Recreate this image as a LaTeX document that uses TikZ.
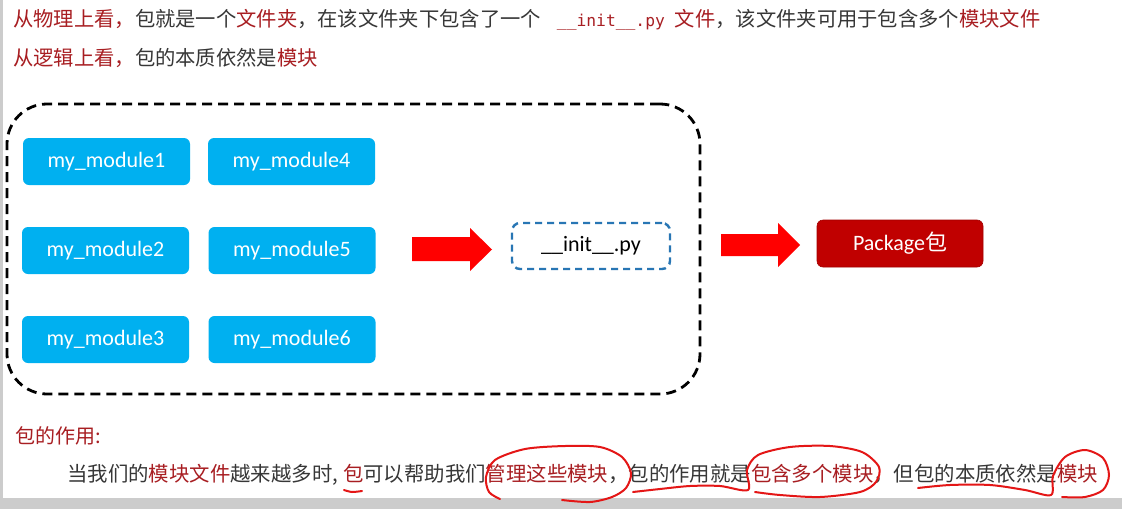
\documentclass[tikz,border=0pt]{standalone}
\usepackage{fontspec}
\newfontfamily\cjk{Noto Sans CJK SC}
\newfontfamily\carl{Carlito}
\newfontfamily\monof{DejaVu Sans Mono}
\definecolor{txtred}{RGB}{168,30,34}
\definecolor{txtgray}{RGB}{55,55,55}
\definecolor{modblue}{RGB}{0,176,240}
\definecolor{initblue}{RGB}{40,118,180}
\definecolor{pkgred}{RGB}{192,0,0}
\definecolor{penred}{RGB}{228,22,22}
\definecolor{arrred}{RGB}{255,0,0}
\definecolor{edgegray}{RGB}{204,204,204}
\newcommand\Rd[1]{\textcolor{txtred}{#1}}
\tikzset{
  txt/.style={inner sep=0pt, anchor=base west, text=txtgray},
  modbox/.style={fill=modblue, rounded corners=6pt, minimum width=167pt, minimum height=47pt, inner sep=0pt, text=white, font=\carl\fontsize{22}{26}\selectfont},
  initbox/.style={draw=initblue, line width=2.4pt, dash pattern=on 7pt off 5pt, rounded corners=8pt, minimum width=158pt, minimum height=46pt, inner sep=0pt, text=black, font=\carl\fontsize{22}{26}\selectfont},
  pkgbox/.style={fill=pkgred, draw=pkgred!85!black, line width=0.6pt, rounded corners=6pt, minimum width=166pt, minimum height=47pt, inner sep=0pt, text=white, font=\carl\fontsize{22}{26}\selectfont},
  groupbox/.style={draw=black, line width=2.8pt, dash pattern=on 10pt off 6pt, rounded corners=40pt, minimum width=693pt, minimum height=290pt, inner sep=0pt},
  blockarr/.style={fill=arrred, draw=none},
  pen/.style={draw=penred, line width=2pt, line cap=round, line join=round}
}
\begin{document}
\begin{tikzpicture}[x=1pt,y=-1pt]
\fill[white] (0,0) rectangle (1122,509);
\useasboundingbox (0,0) rectangle (1122,509);
\fill[edgegray] (0,0) rectangle (3,509);
\fill[edgegray] (0,498) rectangle (1122,509);

% top text
\node[txt] (l1) at (13,26) {\cjk\fontsize{20.3}{24}\selectfont\Rd{从物理上看，}包就是一个\Rd{文件夹}，在该文件夹下包含了一个\hspace{16pt}\Rd{\monof\fontsize{16.3}{20}\selectfont\_\_init\_\_.py}\hspace{10pt}\Rd{文件}，该文件夹可用于包含多个\Rd{模块文件}};
\node[txt] (l2) at (13,65) {\cjk\fontsize{20.3}{24}\selectfont\Rd{从逻辑上看，}包的本质依然是\Rd{模块}};

% group
\node[groupbox] (grp) at (353.5,249) {};
\node[modbox] (m1) at (106.5,161.5) {my\_module1};
\node[modbox] (m4) at (291.5,161.5) {my\_module4};
\node[modbox] (m2) at (105.5,250.5) {my\_module2};
\node[modbox] (m5) at (292,250.5) {my\_module5};
\node[modbox] (m3) at (105.5,339.5) {my\_module3};
\node[modbox] (m6) at (292,339.5) {my\_module6};
\node[initbox] (init) at (591,246) {\_\_init\_\_.py};
\node[pkgbox] (pkg) at (900,243.5) {Package{\cjk 包}};

% block arrows
\fill[blockarr] (412,237) -- (470,237) -- (470,228) -- (492,249.5) -- (470,271) -- (470,261) -- (412,261) -- cycle;
\fill[blockarr] (721,234) -- (778,234) -- (778,223) -- (800,245) -- (778,267) -- (778,256) -- (721,256) -- cycle;

% bottom text
\node[txt, text=txtred] (h) at (15,443) {\cjk\fontsize{20}{24}\selectfont 包的作用:};
\node[txt] (l4) at (67,481.5) {\cjk\fontsize{20.4}{24}\selectfont 当我们的\Rd{模块文件}越来越多时,\hspace{5pt}\Rd{包}可以帮助我们\Rd{管理这些模块}，包的作用就是\Rd{包含多个模块}，但包的本质依然是\Rd{模块}};

% hand-drawn marks
\draw[pen] plot[smooth] coordinates {(344,490) (352,492) (362,491)};
\draw[pen] plot[smooth] coordinates {(500,499) (489,492) (486,477) (495,460) (525,449) (565,446) (600,447) (622,457) (631,473) (626,488) (612,497) (590,502) (562,500)};
\draw[pen] plot[smooth] coordinates {(633,492) (660,489) (690,486) (720,486) (748,490) (747,470) (758,455) (790,447) (830,446) (862,452) (879,467) (876,482) (860,492) (820,497) (780,495) (755,492)};
\draw[pen] plot[smooth] coordinates {(918,488) (950,485) (990,485) (1025,490) (1051,495) (1053,476) (1065,457) (1085,450) (1103,458) (1109,475) (1103,490) (1085,497) (1062,497)};
\end{tikzpicture}
\end{document}
